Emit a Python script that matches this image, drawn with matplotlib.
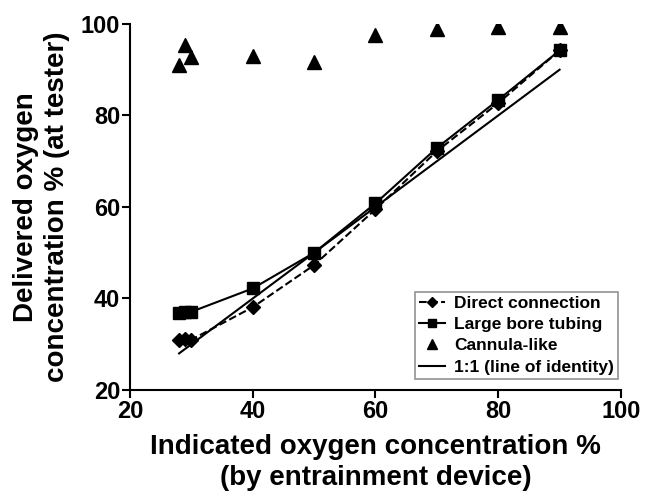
import matplotlib.pyplot as plt

plt.rcParams['font.family'] = 'Liberation Sans'
plt.rcParams['font.weight'] = 'bold'

indicated = [28, 29, 30, 40, 50, 60, 70, 80, 90]
direct = [31.0, 31.2, 31.0, 38.1, 47.3, 59.5, 72.2, 82.7, 94.2]
large_bore = [36.8, 37.0, 37.1, 42.2, 50.0, 60.8, 72.9, 83.4, 94.2]
cannula = [91.0, 95.4, 92.7, 93.0, 91.7, 97.6, 99.0, 99.4, 99.4]
identity_x = [28, 90]

fig = plt.figure(figsize=(6.55, 4.94), dpi=100)
ax = fig.add_axes([0.1985, 0.2105, 0.7495, 0.741])

ax.plot(indicated, direct, color='black', linestyle='--', linewidth=1.5,
        marker='D', markersize=7, label='Direct connection')
ax.plot(indicated, large_bore, color='black', linestyle='-', linewidth=1.5,
        marker='s', markersize=9, label='Large bore tubing')
ax.plot(indicated, cannula, color='black', linestyle='none',
        marker='^', markersize=10, label='Cannula-like')
ax.plot(identity_x, identity_x, color='black', linestyle='-', linewidth=1.5,
        label='1:1 (line of identity)')

ax.set_xlim(20, 100)
ax.set_ylim(20, 100)
ax.set_xticks([20, 40, 60, 80, 100])
ax.set_yticks([20, 40, 60, 80, 100])
for s in ['top', 'right']:
    ax.spines[s].set_visible(False)
for s in ['left', 'bottom']:
    ax.spines[s].set_linewidth(1.5)
ax.tick_params(width=1.5, length=6, labelsize=17, pad=1)

ax.set_xlabel('Indicated oxygen concentration %\n(by entrainment device)',
              fontsize=20, fontweight='bold', labelpad=8, linespacing=1.25)
ax.set_ylabel('Delivered oxygen\nconcentration % (at tester)',
              fontsize=20, fontweight='bold', labelpad=8, linespacing=1.25)

leg = ax.legend(loc='lower right', bbox_to_anchor=(0.994, 0.03),
                fontsize=12.5, frameon=True, fancybox=False,
                edgecolor='#777777', handlelength=1.5, handletextpad=0.5,
                borderpad=0.25, labelspacing=0.35, borderaxespad=0,
                markerscale=0.7)
leg.get_frame().set_linewidth(1.2)

fig.savefig('out.png', dpi=100)
